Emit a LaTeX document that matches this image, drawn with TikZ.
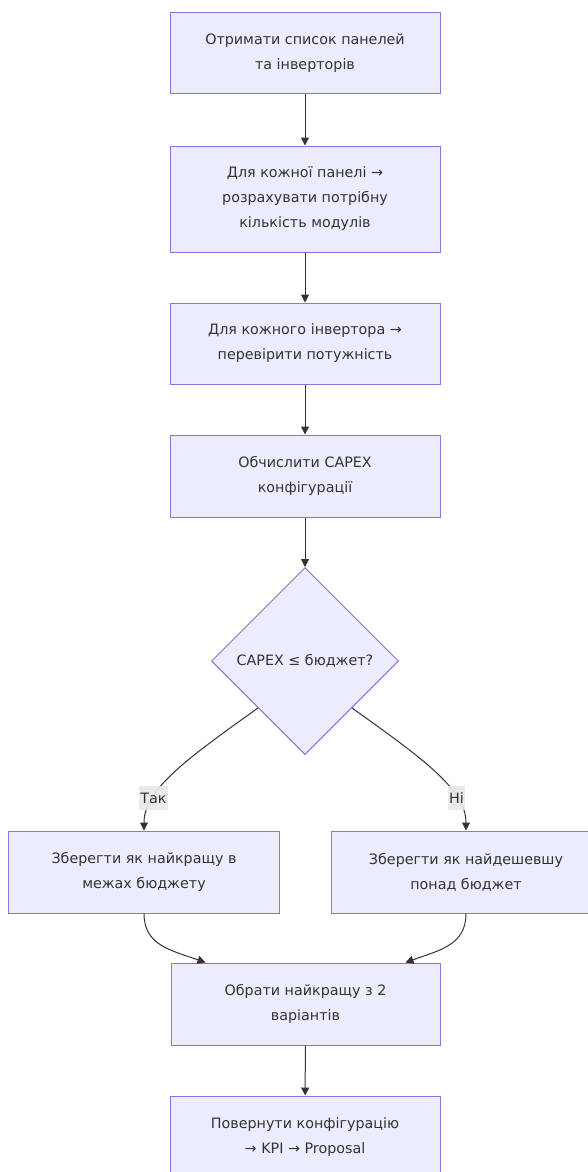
\documentclass[tikz,border=0pt]{standalone}
\usepackage{fontspec}
\setmainfont{DejaVu Sans}
\usetikzlibrary{shapes.geometric,arrows.meta}
\definecolor{nodefill}{HTML}{ECECFF}
\definecolor{nodeborder}{HTML}{9370DB}
\definecolor{txt}{HTML}{333333}
\definecolor{lblbg}{HTML}{E8E8E8}
\begin{document}
\begin{tikzpicture}[x=1pt,y=-1pt,
  every node/.style={font=\fontsize{14.3}{25}\selectfont, text=txt},
  procbox/.style={draw=nodeborder, fill=nodefill, line width=1pt, rectangle,
    minimum width=270pt, align=center, inner sep=0pt},
  decision/.style={draw=nodeborder, fill=nodefill, line width=1pt, diamond,
    minimum width=187pt, minimum height=187pt, inner sep=0pt, align=center},
  conn/.style={draw=txt, line width=1pt, -{Triangle[length=8pt,width=8pt]}},
  edgelbl/.style={fill=lblbg, fill opacity=0.9, text opacity=1, inner sep=1.5pt,
    minimum height=24pt}
]
\useasboundingbox (0,0) rectangle (588,1172);
\clip (0,0) rectangle (588,1172);
\fill[white] (0,0) rectangle (588,1172);

\node[procbox, minimum height=80pt] (b1) at (305,53) {Отримати список панелей\\та інверторів};
\node[procbox, minimum height=106pt] (b2) at (305,199) {Для кожної панелі →\\розрахувати потрібну\\кількість модулів};
\node[procbox, minimum height=81pt] (b3) at (305,343.5) {Для кожного інвертора →\\перевірити потужність};
\node[procbox, minimum height=82pt] (b4) at (305,476) {Обчислити CAPEX\\конфігурації};
\node[decision] (d) at (305,661) {CAPEX ≤ бюджет?};
\node[procbox, minimum height=82pt, minimum width=271pt] (lb) at (144,872) {Зберегти як найкращу в\\межах бюджету};
\node[procbox, minimum height=82pt] (rb) at (466,872) {Зберегти як найдешевшу\\понад бюджет};
\node[procbox, minimum height=82pt, minimum width=269pt] (b5) at (305.5,1004) {Обрати найкращу з 2\\варіантів};
\node[procbox, minimum height=82pt] (b6) at (305,1137) {Повернути конфігурацію\\→ KPI → Proposal};

\draw[conn] (b1) -- (b2);
\draw[conn] (b2) -- (b3);
\draw[conn] (b3) -- (b4);
\draw[conn] (b4) -- (d);
\draw[conn] (d.south west) .. controls (185,760) and (144,790) .. (lb.north)
  node[pos=0.72, edgelbl] {Так};
\draw[conn] (d.south east) .. controls (425,760) and (466,790) .. (rb.north)
  node[pos=0.72, edgelbl] {Ні};
\draw[conn] (lb.south) .. controls (144,945) and (170,950) .. ([xshift=-100pt]b5.north);
\draw[conn] (rb.south) .. controls (466,945) and (440,950) .. ([xshift=100pt]b5.north);
\draw[conn] (b5) -- (b6);
\end{tikzpicture}
\end{document}
